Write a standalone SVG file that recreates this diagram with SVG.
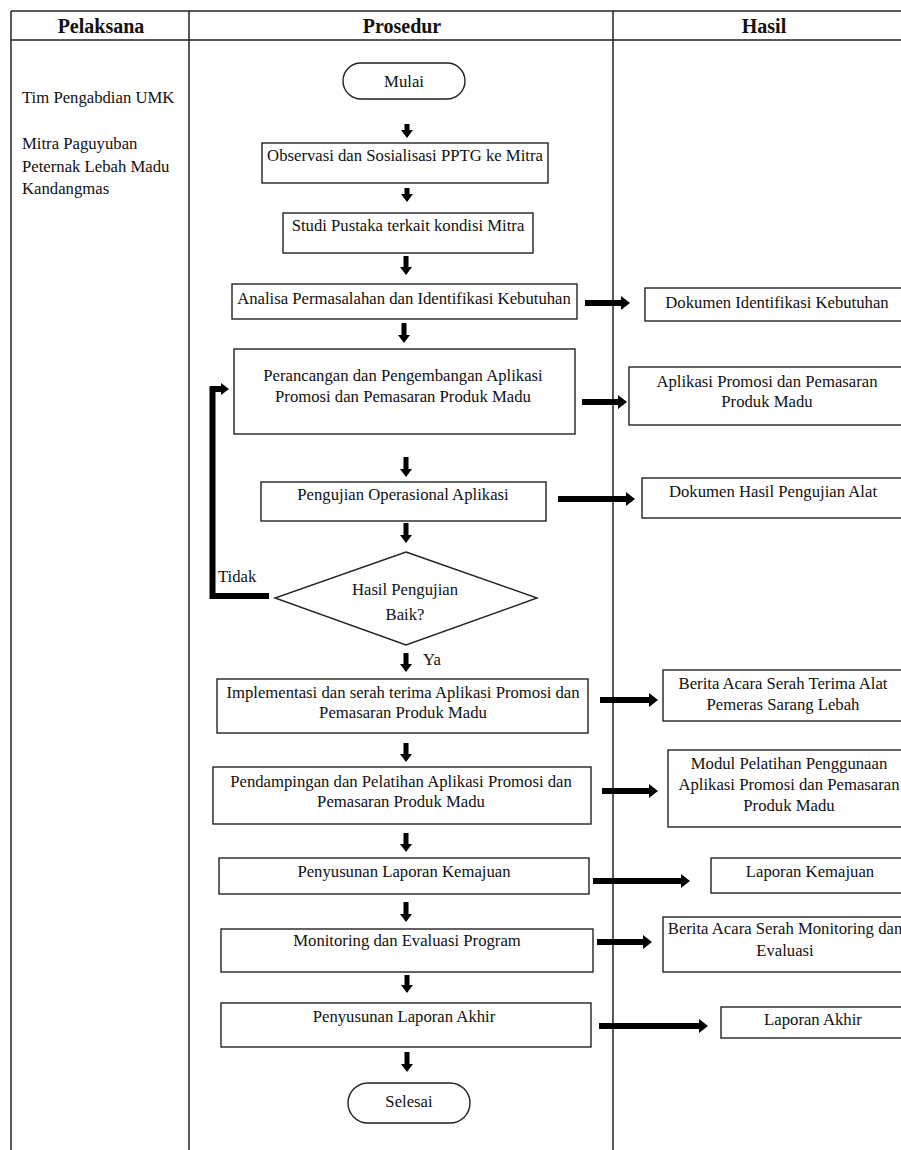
<svg xmlns="http://www.w3.org/2000/svg" width="901" height="1150" viewBox="0 0 901 1150">
<style>
text{font-family:"Liberation Serif","Times New Roman",serif;font-size:16.7px;fill:#111}
.h{font-weight:bold;font-size:20px;text-anchor:middle}
.c{text-anchor:middle}
.box{fill:#fff;stroke:#222;stroke-width:1.4}
.tl{stroke:#222;stroke-width:1.5;fill:none}
.arr{fill:#000}
.loop{fill:none;stroke:#000;stroke-width:6;stroke-linejoin:miter}
</style>
<rect width="901" height="1150" fill="#fff"/>
<g id="table">
<line class="tl" x1="11" y1="11" x2="915" y2="11"/>
<line class="tl" x1="11" y1="40" x2="915" y2="40"/>
<line class="tl" x1="11" y1="11" x2="11" y2="1150"/>
<line class="tl" x1="189" y1="11" x2="189" y2="1150"/>
<line class="tl" x1="613" y1="11" x2="613" y2="1150"/>
<text class="h" x="101" y="33">Pelaksana</text>
<text class="h" x="402" y="33">Prosedur</text>
<text class="h" x="764" y="33">Hasil</text>
</g>
<g id="pelaksana">
<text x="22" y="103">Tim Pengabdian UMK</text>
<text x="22" y="149">Mitra Paguyuban</text>
<text x="22" y="171.5">Peternak Lebah Madu</text>
<text x="22" y="194">Kandangmas</text>
</g>
<g id="mulai"><rect class="box" x="343" y="63" width="122" height="36" rx="18"/><text class="c" x="404" y="87">Mulai</text></g>
<g id="observasi"><rect class="box" x="262" y="143" width="286" height="40"/><text class="c" x="405" y="161">Observasi dan Sosialisasi PPTG ke Mitra</text></g>
<g id="studi"><rect class="box" x="283" y="213" width="250" height="40"/><text class="c" x="408" y="231">Studi Pustaka terkait kondisi Mitra</text></g>
<g id="analisa"><rect class="box" x="232" y="284" width="345" height="35"/><text class="c" x="404" y="304">Analisa Permasalahan dan Identifikasi Kebutuhan</text></g>
<g id="perancangan"><rect class="box" x="234" y="349" width="341" height="85"/><text class="c" x="403" y="381">Perancangan dan Pengembangan Aplikasi</text><text class="c" x="403" y="402">Promosi dan Pemasaran Produk Madu</text></g>
<g id="pengujian"><rect class="box" x="261" y="482" width="285" height="39"/><text class="c" x="403" y="500">Pengujian Operasional Aplikasi</text></g>
<g id="keputusan"><polygon class="box" points="406,552 537,598 406,645 275,598"/><text class="c" x="405" y="595">Hasil Pengujian</text><text class="c" x="405" y="620">Baik?</text></g>
<g id="implementasi"><rect class="box" x="217" y="679" width="371" height="54"/><text class="c" x="403" y="698">Implementasi dan serah terima Aplikasi Promosi dan</text><text class="c" x="403" y="718">Pemasaran Produk Madu</text></g>
<g id="pendampingan"><rect class="box" x="213" y="767" width="378" height="57"/><text class="c" x="401" y="787">Pendampingan dan Pelatihan Aplikasi Promosi dan</text><text class="c" x="401" y="807">Pemasaran Produk Madu</text></g>
<g id="kemajuan"><rect class="box" x="219" y="858" width="370" height="36"/><text class="c" x="404" y="877">Penyusunan Laporan Kemajuan</text></g>
<g id="monitoring"><rect class="box" x="221" y="929" width="372" height="43"/><text class="c" x="407" y="946">Monitoring dan Evaluasi Program</text></g>
<g id="akhir"><rect class="box" x="221" y="1003" width="370" height="44"/><text class="c" x="404" y="1022">Penyusunan Laporan Akhir</text></g>
<g id="selesai"><rect class="box" x="348" y="1083" width="122" height="40" rx="20"/><text class="c" x="409" y="1107">Selesai</text></g>
<g id="hasil-dokumen-identifikasi"><rect class="box" x="645" y="288" width="270" height="33"/><text class="c" x="777" y="308">Dokumen Identifikasi Kebutuhan</text></g>
<g id="hasil-aplikasi"><rect class="box" x="629" y="367" width="286" height="58"/><text class="c" x="767" y="387">Aplikasi Promosi dan Pemasaran</text><text class="c" x="767" y="407">Produk Madu</text></g>
<g id="hasil-dokumen-pengujian"><rect class="box" x="642" y="478" width="273" height="40"/><text class="c" x="773" y="497">Dokumen Hasil Pengujian Alat</text></g>
<g id="hasil-berita-serah-terima"><rect class="box" x="663" y="670" width="252" height="51"/><text class="c" x="783" y="689">Berita Acara Serah Terima Alat</text><text class="c" x="783" y="710">Pemeras Sarang Lebah</text></g>
<g id="hasil-modul"><rect class="box" x="668" y="750" width="247" height="77"/><text class="c" x="789" y="769">Modul Pelatihan Penggunaan</text><text class="c" x="789" y="790">Aplikasi Promosi dan Pemasaran</text><text class="c" x="789" y="811">Produk Madu</text></g>
<g id="hasil-laporan-kemajuan"><rect class="box" x="711" y="858" width="204" height="35"/><text class="c" x="810" y="877">Laporan Kemajuan</text></g>
<g id="hasil-berita-monitoring"><rect class="box" x="663" y="917" width="252" height="55"/><text class="c" x="785" y="934">Berita Acara Serah Monitoring dan</text><text class="c" x="785" y="956">Evaluasi</text></g>
<g id="hasil-laporan-akhir"><rect class="box" x="721" y="1007" width="194" height="31"/><text class="c" x="813" y="1025">Laporan Akhir</text></g>
<g id="connectors">
<path class="arr" d="M404.5,124H409.5V130H413L407,138L401,130H404.5Z"/>
<path class="arr" d="M404.5,188H409.5V194H413L407,202L401,194H404.5Z"/>
<path class="arr" d="M403.5,256H408.5V267H412L406,275L400,267H403.5Z"/>
<path class="arr" d="M401.5,323H406.5V335H410L404,343L398,335H401.5Z"/>
<path class="arr" d="M403.5,457H408.5V469H412L406,477L400,469H403.5Z"/>
<path class="arr" d="M403.5,523H408.5V535H412L406,543L400,535H403.5Z"/>
<path class="arr" d="M403.5,653H408.5V664H412L406,672L400,664H403.5Z"/>
<path class="arr" d="M403.5,743H408.5V754H412L406,762L400,754H403.5Z"/>
<path class="arr" d="M403.5,833H408.5V844H412L406,852L400,844H403.5Z"/>
<path class="arr" d="M403.5,902H408.5V914H412L406,922L400,914H403.5Z"/>
<path class="arr" d="M404.5,975H409.5V985H413L407,993L401,985H404.5Z"/>
<path class="arr" d="M404.5,1052H409.5V1064H413L407,1072L401,1064H404.5Z"/>
<path class="arr" d="M585,300H621V296L630,303L621,310V306H585Z"/>
<path class="arr" d="M582,399H618V395L627,402L618,409V405H582Z"/>
<path class="arr" d="M558,496H626V492L635,499L626,506V502H558Z"/>
<path class="arr" d="M600,697H649V693L658,700L649,707V703H600Z"/>
<path class="arr" d="M602,788H649V784L658,791L649,798V794H602Z"/>
<path class="arr" d="M593,878H681V874L690,881L681,888V884H593Z"/>
<path class="arr" d="M597,939H643V935L652,942L643,949V945H597Z"/>
<path class="arr" d="M599,1023H699V1019L708,1026L699,1033V1029H599Z"/>
<path class="loop" d="M269,596H212.5V389H222"/>
<path class="arr" d="M221,383L229,389L221,395Z"/>
<text x="218" y="582">Tidak</text>
<text x="423" y="665">Ya</text>
</g>
</svg>
